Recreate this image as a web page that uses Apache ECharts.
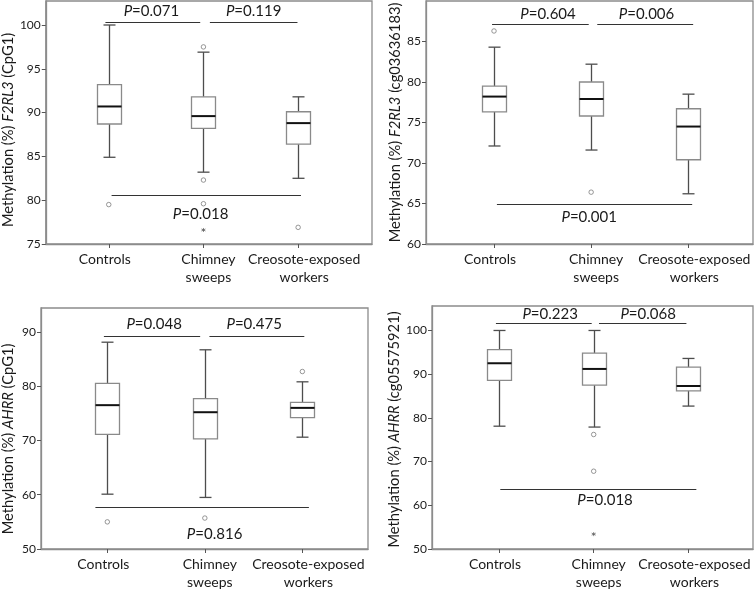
<!DOCTYPE html>
<html>
<head>
<meta charset="utf-8">
<script src="https://cdn.jsdelivr.net/npm/echarts@6/dist/echarts.min.js"></script>
<style>
html,body{margin:0;padding:0;background:#fff;}
#chart{width:755px;height:592px;}
</style>
</head>
<body>
<div id="chart"></div>
<script>
// ---------- DATA ----------
const categories = ['Controls', 'Chimney\nsweeps', 'Creosote-exposed\nworkers'];

// Panel A: F2RL3 (CpG1)  -- [min, Q1, median, Q3, max]
const aBoxes = [[84.9, 88.7, 90.7, 93.2, 100.0], [83.2, 88.2, 89.6, 91.8, 96.9], [82.5, 86.4, 88.8, 90.1, 91.8]];
const aOutliers = [[1, 79.5], [2, 97.5], [2, 82.3], [2, 79.6], [3, 76.9]];
const aExtremes = [[2, 76.6]];
const aTicks = [75, 80, 85, 90, 95, 100];
const aPvalues = ['0.071', '0.119', '0.018'];
// [x1, x2, y, textX, textY]
const aBrackets = [[0.965, 1.966, 100.3, 1.45, 101.55], [2.068, 2.993, 100.3, 2.53, 101.55], [1.03, 3.03, 80.6, 1.97, 78.4]];

// Panel B: F2RL3 (cg03636183)
const bBoxes = [[72.1, 76.3, 78.2, 79.5, 84.3], [71.6, 75.8, 77.9, 80.0, 82.2], [66.2, 70.4, 74.5, 76.7, 78.5]];
const bOutliers = [[1, 86.3], [2, 66.4]];
const bExtremes = [];
const bTicks = [60, 65, 70, 75, 80, 85];
const bPvalues = ['0.604', '0.006', '0.001'];
const bBrackets = [[0.98, 1.975, 87.2, 1.556, 88.4], [2.063, 3.05, 87.2, 2.57, 88.4], [1.03, 3.04, 65.0, 1.98, 63.3]];

// Panel C: AHRR (CpG1)
const cBoxes = [[60.1, 71.1, 76.5, 80.5, 88.1], [59.5, 70.3, 75.2, 77.7, 86.7], [70.6, 74.2, 76.0, 77.0, 80.8]];
const cOutliers = [[1, 55.0], [2, 55.7], [3, 82.7]];
const cExtremes = [];
const cTicks = [50, 60, 70, 80, 90];
const cPvalues = ['0.048', '0.475', '0.816'];
const cBrackets = [[0.965, 1.952, 89.3, 1.48, 91.4], [2.047, 3.02, 89.3, 2.506, 91.4], [0.878, 3.067, 57.7, 2.1, 52.8]];

// Panel D: AHRR (cg05575921)
const dBoxes = [[78.1, 88.6, 92.5, 95.6, 100.0], [77.9, 87.5, 91.2, 94.8, 100.0], [82.7, 86.2, 87.3, 91.6, 93.6]];
const dOutliers = [[2, 76.2], [2, 67.8]];
const dExtremes = [[2, 53.4]];
const dTicks = [50, 60, 70, 80, 90, 100];
const dPvalues = ['0.223', '0.068', '0.018'];
const dBrackets = [[0.968, 1.979, 101.7, 1.54, 103.8], [2.056, 2.979, 101.7, 2.575, 103.8], [1.014, 3.084, 63.65, 2.12, 61.1]];

// ---------- STYLE / LAYOUT ----------
const FONT = 'Lato';
const TXT = '#1a1a1a';
const FRAME = '#8c8c8c';

const panels = [
  {boxes: aBoxes, outliers: aOutliers, extremes: aExtremes, ticks: aTicks, pvals: aPvalues, brackets: aBrackets,
   gene: 'F2RL3', site: '(CpG1)', grid: {left: 44, top: 1, width: 328, height: 243},
   x: [0.335, 3.78], y: [75, 102.74], nameGap: 28, namePad: [0, 15, 0, 0]},
  {boxes: bBoxes, outliers: bOutliers, extremes: bExtremes, ticks: bTicks, pvals: bPvalues, brackets: bBrackets,
   gene: 'F2RL3', site: '(cg03636183)', grid: {left: 426, top: 1, width: 327, height: 243},
   x: [0.30, 3.666], y: [60, 90], nameGap: 22, namePad: [0, 0, 0, 0]},
  {boxes: cBoxes, outliers: cOutliers, extremes: cExtremes, ticks: cTicks, pvals: cPvalues, brackets: cBrackets,
   gene: 'AHRR', site: '(CpG1)', grid: {left: 39, top: 308, width: 329, height: 241},
   x: [0.32, 3.673], y: [50, 94.4], nameGap: 25, namePad: [0, 21, 0, 0]},
  {boxes: dBoxes, outliers: dOutliers, extremes: dExtremes, ticks: dTicks, pvals: dPvalues, brackets: dBrackets,
   gene: 'AHRR', site: '(cg05575921)', grid: {left: 432, top: 306, width: 321, height: 243},
   x: [0.293, 3.682], y: [50, 105.6], nameGap: 25, namePad: [0, 4, 0, 0]}
];

function boxRender(params, api) {
  const x = api.value(0);
  const lo = api.coord([x, api.value(1)]);
  const q1 = api.coord([x, api.value(2)]);
  const md = api.coord([x, api.value(3)]);
  const q3 = api.coord([x, api.value(4)]);
  const hi = api.coord([x, api.value(5)]);
  const cx = Math.round(lo[0]) + 0.5;
  const hw = 12, cw = 6;
  const wStyle = {stroke: '#4d4d4d', lineWidth: 1.3};
  return {
    type: 'group',
    children: [
      {type: 'line', shape: {x1: cx, y1: hi[1], x2: cx, y2: q3[1]}, style: wStyle},
      {type: 'line', shape: {x1: cx, y1: q1[1], x2: cx, y2: lo[1]}, style: wStyle},
      {type: 'line', shape: {x1: cx - cw, y1: hi[1], x2: cx + cw, y2: hi[1]}, style: wStyle},
      {type: 'line', shape: {x1: cx - cw, y1: lo[1], x2: cx + cw, y2: lo[1]}, style: wStyle},
      {type: 'rect', shape: {x: cx - hw, y: q3[1], width: hw * 2, height: q1[1] - q3[1]},
       style: {fill: '#fff', stroke: '#8a8a8a', lineWidth: 1.3}},
      {type: 'line', shape: {x1: cx - hw, y1: md[1], x2: cx + hw, y2: md[1]}, style: {stroke: '#111', lineWidth: 2}}
    ]
  };
}

function bracketRender(pvals) {
  return function (params, api) {
    const a = api.coord([api.value(0), api.value(2)]);
    const b = api.coord([api.value(1), api.value(2)]);
    const t = api.coord([api.value(3), api.value(4)]);
    const y = Math.round(a[1]) + 0.5;
    return {
      type: 'group',
      children: [
        {type: 'line', shape: {x1: a[0], y1: y, x2: b[0], y2: y}, style: {stroke: '#333', lineWidth: 1}},
        {type: 'text', x: t[0], y: t[1], style: {
          text: '{i|P}=' + pvals[params.dataIndex], align: 'center', verticalAlign: 'middle',
          fontFamily: FONT, fontSize: 15, fill: TXT,
          rich: {i: {fontStyle: 'italic', fontFamily: FONT, fontSize: 15, fill: TXT}}
        }}
      ]
    };
  };
}

const labelShift = [-4, 5, 6];
const option = {
  animation: false,
  backgroundColor: '#fff',
  grid: [], xAxis: [], yAxis: [], series: []
};

panels.forEach(function (p, i) {
  option.grid.push(Object.assign({show: true, borderColor: FRAME, borderWidth: 1.3, backgroundColor: '#fff'}, p.grid));
  option.xAxis.push({
    type: 'value', gridIndex: i, min: p.x[0], max: p.x[1],
    splitLine: {show: false},
    axisLine: {show: true, lineStyle: {color: FRAME, width: 1.3}},
    axisTick: {show: true, customValues: [1, 2, 3], length: 4, lineStyle: {color: '#555'}},
    axisLabel: {
      customValues: [1, 2, 3], margin: 6,
      formatter: function (v) {
        const k = Math.round(v) - 1;
        const s = labelShift[k];
        const key = s < 0 ? 'l' : 'r';
        return categories[k].split('\n').map(function (t) { return '{' + key + k + '|' + t + '}'; }).join('\n');
      },
      rich: (function () {
        const r = {};
        labelShift.forEach(function (s, k) {
          const st = {fontFamily: FONT, fontSize: 14, color: TXT, lineHeight: 18};
          st.padding = s < 0 ? [0, -2 * s, 0, 0] : [0, 0, 0, 2 * s];
          r[(s < 0 ? 'l' : 'r') + k] = st;
        });
        return r;
      })()
    }
  });
  option.yAxis.push({
    type: 'value', gridIndex: i, min: p.y[0], max: p.y[1],
    splitLine: {show: false},
    axisLine: {show: true, lineStyle: {color: FRAME, width: 1.3}},
    axisTick: {show: true, customValues: p.ticks, length: 4, lineStyle: {color: '#555'}},
    axisLabel: {customValues: p.ticks, fontFamily: FONT, fontSize: 12, color: TXT, margin: 5},
    name: 'Methylation (%) {i|' + p.gene + '} ' + p.site,
    nameLocation: 'middle', nameRotate: 90, nameGap: p.nameGap,
    nameTextStyle: {
      fontFamily: FONT, fontSize: 14.7, color: TXT, padding: p.namePad,
      rich: {i: {fontStyle: 'italic', fontFamily: FONT, fontSize: 14.7, color: TXT}}
    }
  });
  option.series.push({
    type: 'custom', xAxisIndex: i, yAxisIndex: i, renderItem: boxRender,
    encode: {x: 0, y: [1, 2, 3, 4, 5]},
    data: p.boxes.map(function (b, k) { return [k + 1].concat(b); }),
    silent: true
  });
  option.series.push({
    type: 'scatter', xAxisIndex: i, yAxisIndex: i, data: p.outliers,
    symbol: 'circle', symbolSize: 4.5,
    itemStyle: {color: '#fff', borderColor: '#707070', borderWidth: 0.9}, silent: true
  });
  option.series.push({
    type: 'scatter', xAxisIndex: i, yAxisIndex: i, data: p.extremes,
    symbol: 'path://M5,0L5,10M0.7,2.5L9.3,7.5M0.7,7.5L9.3,2.5', symbolSize: 4,
    itemStyle: {color: '#555', borderColor: '#555', borderWidth: 0.9}, silent: true
  });
  option.series.push({
    type: 'custom', xAxisIndex: i, yAxisIndex: i, renderItem: bracketRender(p.pvals),
    encode: {x: [0, 1, 3], y: [2, 4]},
    data: p.brackets, silent: true
  });
});

const chart = echarts.init(document.getElementById('chart'), null, {renderer: 'canvas'});
chart.setOption(option);
</script>
</body>
</html>
